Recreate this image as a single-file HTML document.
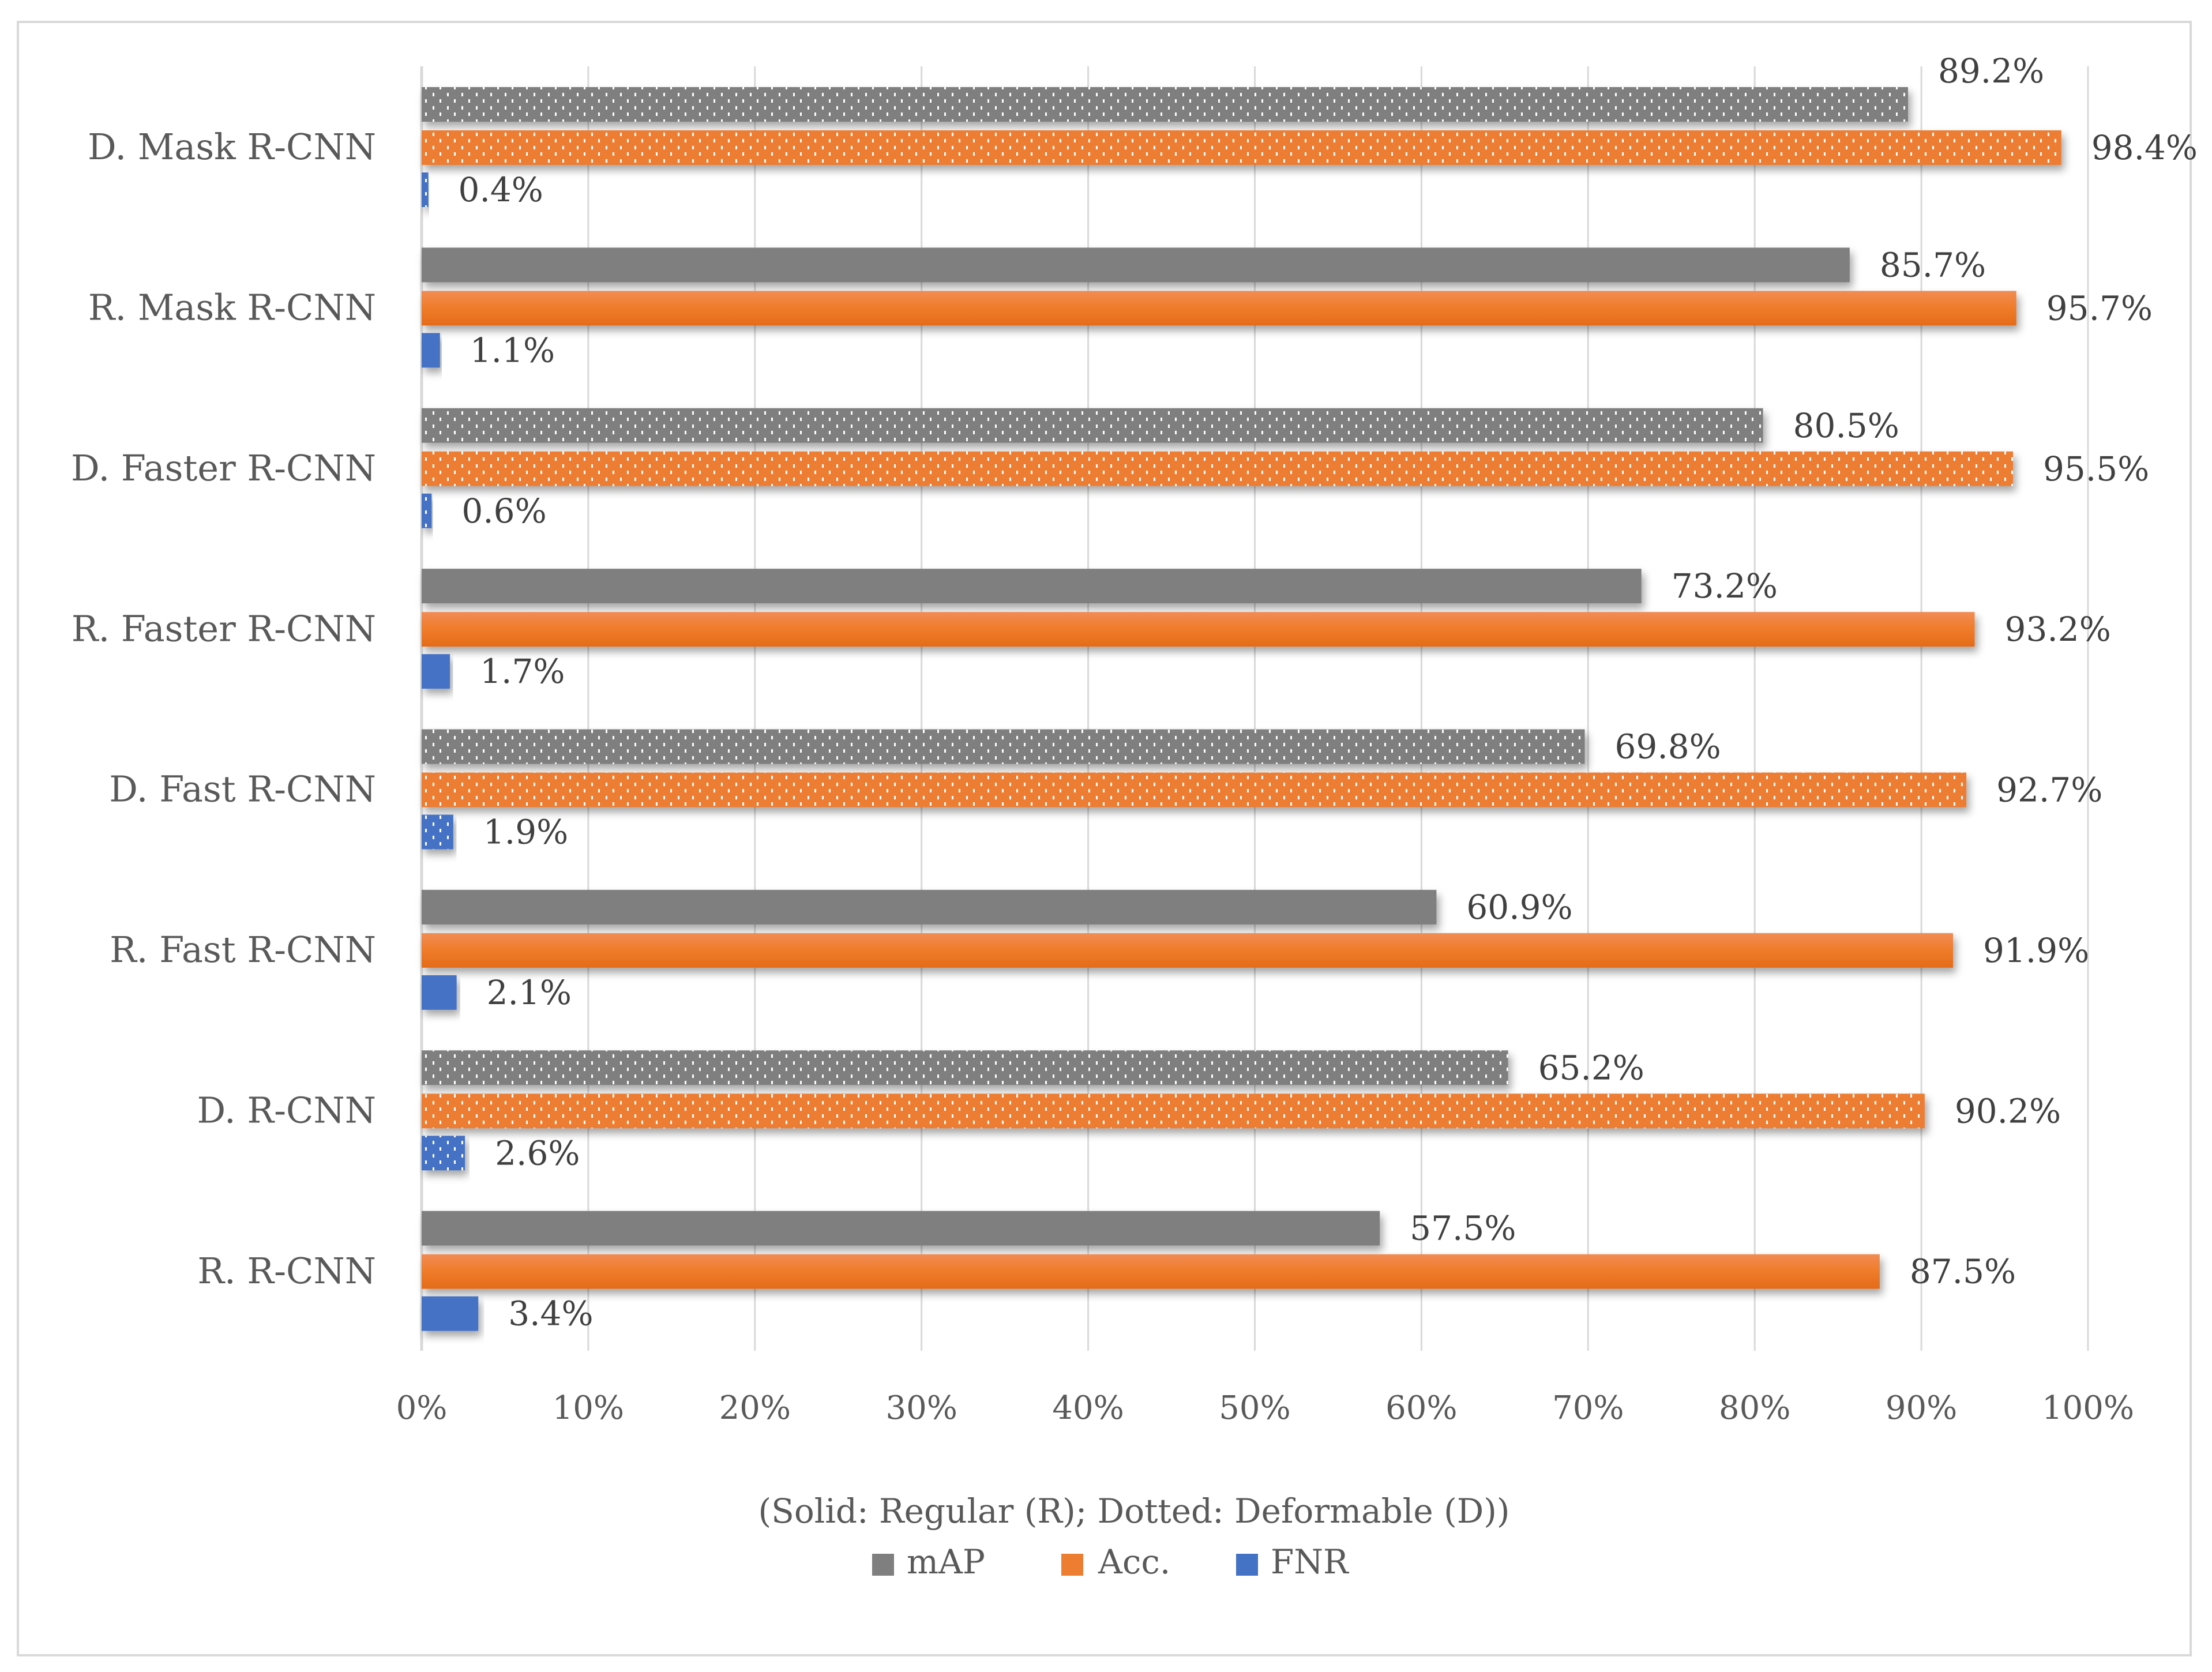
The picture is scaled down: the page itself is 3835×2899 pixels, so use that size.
<!DOCTYPE html>
<html><head><meta charset="utf-8"><style>
html,body{margin:0;padding:0;background:#fff;}
svg{display:block;}
text{font-family:"DejaVu Serif","Liberation Serif",serif;}
</style></head><body>
<svg id="chart" width="3835" height="2899" viewBox="0 0 3835 2899" xmlns="http://www.w3.org/2000/svg">
<defs>
<pattern id="dots" width="25" height="23" patternUnits="userSpaceOnUse">
<rect x="0" y="0" width="3" height="6" fill="#fff"/>
<rect x="12" y="11" width="3" height="6" fill="#fff"/>
</pattern>
<linearGradient id="gOrange" x1="0" y1="0" x2="0" y2="1"><stop offset="0" stop-color="#f18c55"/><stop offset="0.45" stop-color="#f07d2c"/><stop offset="1" stop-color="#e46b18"/></linearGradient>
<filter id="sh" x="-5%" y="-30%" width="115%" height="180%"><feDropShadow dx="5" dy="9" stdDeviation="7" flood-color="#000" flood-opacity="0.35"/></filter>
</defs>
<rect x="31" y="38" width="3767" height="2832" fill="#fff" stroke="#d9d9d9" stroke-width="4"/>
<g id="grid"></g>
<g id="bars"></g>
<g id="labels"></g>
<text x="1966" y="2640" font-size="58" fill="#595959" text-anchor="middle">(Solid: Regular (R); Dotted: Deformable (D))</text>
<g>
<rect x="1512" y="2694" width="38" height="38" fill="#7f7f7f"/>
<text x="1572" y="2728" font-size="58" fill="#595959">mAP</text>
<rect x="1840" y="2694" width="38" height="38" fill="#ed7d31"/>
<text x="1904" y="2728" font-size="58" fill="#595959">Acc.</text>
<rect x="2143" y="2694" width="38" height="38" fill="#4472c4"/>
<text x="2203" y="2728" font-size="58" fill="#595959">FNR</text>
</g>
</svg>
<script>
const categories = ["D. Mask R-CNN","R. Mask R-CNN","D. Faster R-CNN","R. Faster R-CNN","D. Fast R-CNN","R. Fast R-CNN","D. R-CNN","R. R-CNN"];
const deformable = [true,false,true,false,true,false,true,false];
const mapValues = [89.2,85.7,80.5,73.2,69.8,60.9,65.2,57.5];
const accValues = [98.4,95.7,95.5,93.2,92.7,91.9,90.2,87.5];
const fnrValues = [0.4,1.1,0.6,1.7,1.9,2.1,2.6,3.4];
const xTicks = [0,10,20,30,40,50,60,70,80,90,100];

const NS="http://www.w3.org/2000/svg";
const X0=731, X1=3620, YT=115, YB=2342;
const xs=v=>X0+(v/100)*(X1-X0);
const band=(YB-YT)/categories.length;
function mk(tag,attrs,parent){const e=document.createElementNS(NS,tag);for(const k in attrs)e.setAttribute(k,attrs[k]);parent.appendChild(e);return e;}
const grid=document.getElementById('grid'),bars=document.getElementById('bars'),labels=document.getElementById('labels');

xTicks.forEach(t=>{
  const l=mk('line',{x1:xs(t),x2:xs(t),y1:YT,y2:YB,stroke:'#d9d9d9','stroke-width':t===0?5:3},grid);
  
  
  const tx=mk('text',{x:xs(t),y:2460,'font-size':56,fill:'#595959','text-anchor':'middle'},grid);
  tx.textContent=t+'%';
  
  
});

const series=[
 {name:'map',vals:mapValues,color:'#7f7f7f',solid:'#7f7f7f',off:36},
 {name:'acc',vals:accValues,color:'#ed7d31',solid:'url(#gOrange)',off:111},
 {name:'fnr',vals:fnrValues,color:'#4472c4',solid:'#4472c4',off:184}
];
const BH=60;
categories.forEach((c,i)=>{
  const gy=YT+band*i;
  const cl=mk('text',{x:652,y:gy+band/2+22,'font-size':62,fill:'#595959','text-anchor':'end'},labels);
  cl.textContent=c;
  
  
  series.forEach(s=>{
    const v=s.vals[i];
    const y=gy+s.off;
    const w=Math.max(xs(v)-X0,2);
    const g=mk('g',{filter:'url(#sh)'},bars);
    const r=mk('rect',{x:X0,y:y,width:w,height:BH,fill:deformable[i]?s.color:s.solid},g);
    
    
    if(deformable[i]) mk('rect',{x:X0,y:y,width:w,height:BH,fill:'url(#dots)'},g);
    let by=y+BH/2+20;
    let lx=xs(v)+52;
    if(s.name==='map' && accValues[i]>97) by=y+BH/2-38;
    const t=mk('text',{x:lx,y:by,'font-size':58,fill:'#404040'},labels);
    t.textContent=v.toFixed(1)+'%';
    
    
  });
});
</script>
</body></html>
